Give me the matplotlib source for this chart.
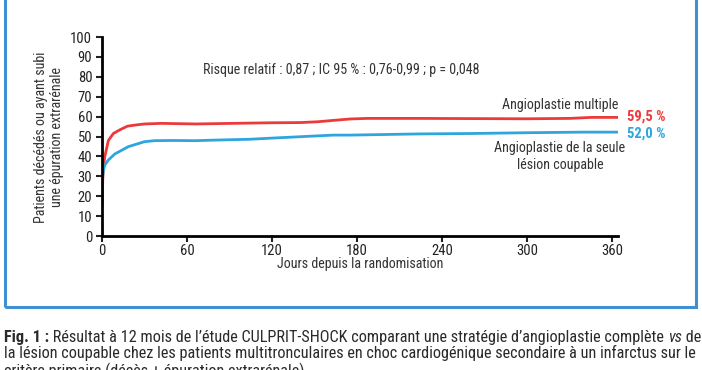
import matplotlib
matplotlib.use("Agg")
import matplotlib.pyplot as plt
from matplotlib.patches import Rectangle

plt.rcParams['font.family'] = ['Roboto Condensed', 'DejaVu Sans']
plt.rcParams['font.stretch'] = 'condensed'

# données
jours_multiple = [0, 0.5, 1, 2, 4.5, 8, 13, 18, 24, 30, 42, 66, 92, 120, 140,
                  152, 165, 175, 187, 224, 260, 300, 330, 345, 364]
angio_multiple = [14.5, 28, 35, 40, 48, 51.5, 53.5, 55.2, 55.8, 56.3, 56.6, 56.3,
                  56.6, 56.9, 57.0, 57.4, 58.2, 58.8, 59.1, 59.1, 59.0, 58.9,
                  59.1, 59.6, 59.6]
jours_seule = [0, 0.5, 1, 2, 4.5, 9, 18.6, 30, 37, 50, 66, 80, 104, 120, 140,
               163, 175, 224, 260, 300, 340, 364]
angio_seule = [15.5, 30, 33, 35.7, 38.2, 41.2, 44.9, 47.4, 47.9, 48.0, 47.9, 48.2,
               48.6, 49.2, 49.9, 50.7, 50.7, 51.3, 51.5, 51.9, 52.2, 52.2]
x_ticks = [0, 60, 120, 180, 240, 300, 360]
y_ticks = list(range(0, 101, 10))

rouge = '#ec3a3a'
bleu = '#2fa5de'
cadre = '#3f8fd2'

W, H = 702, 370
fig = plt.figure(figsize=(W / 100, H / 100), dpi=100)
ax = fig.add_axes([102 / W, 1 - 236 / H, 516 / W, 199 / H])

ax.plot(jours_multiple, angio_multiple, color=rouge, lw=2, solid_capstyle='butt')
ax.plot(jours_seule, angio_seule, color=bleu, lw=2, solid_capstyle='butt')

ax.set_xlim(0, 364)
ax.set_ylim(0, 100)
ax.set_xticks(x_ticks)
ax.set_yticks(y_ticks)
for s in ['top', 'right']:
    ax.spines[s].set_visible(False)
for s in ['left', 'bottom']:
    ax.spines[s].set_linewidth(2)
ax.tick_params(direction='out', length=4, width=1.5, labelsize=10.5,
               colors='#222222')
ax.tick_params(axis='y', pad=3)
ax.tick_params(axis='x', pad=1.5)

txt = '#333333'
fs_txt = 10.1
ax.text(71, 83.5, 'Risque relatif : 0,87 ; IC 95 % : 0,76-0,99 ; p = 0,048',
        fontsize=fs_txt, color=txt, va='center', ha='left')
ax.text(364, 65.8, 'Angioplastie multiple', fontsize=fs_txt, color=txt,
        ha='right', va='center')
ax.text(323, 40, 'Angioplastie de la seule\nlésion coupable', fontsize=fs_txt,
        color=txt, ha='center', va='center', linespacing=1.2, clip_on=False)
ax.text(370, 60.0, '59,5 %', fontsize=10.5, color=rouge, fontweight='bold',
        ha='left', va='center', clip_on=False)
ax.text(370, 51.3, '52,0 %', fontsize=10.5, color=bleu, fontweight='bold',
        ha='left', va='center', clip_on=False)

fig.text(49 / W, 1 - 137 / H, 'Patients décédés ou ayant subi\nune épuration extrarénale',
         rotation=90, ha='center', va='center', fontsize=fs_txt, color=txt,
         linespacing=1.15)
fig.text(360 / W, 1 - 264 / H, 'Jours depuis la randomisation', ha='center',
         va='center', fontsize=fs_txt, color=txt)

# cadre bleu
fig.patches.append(Rectangle((4.5 / W, 1 - 306.5 / H), 691 / W, 306.5 / H + 0.1,
                             transform=fig.transFigure, fill=False,
                             edgecolor=cadre, lw=2.2, clip_on=False))

# légende de la figure
fs = 11.7
lignes = [
    [('Fig. 1 :', 'bold', 'normal'),
     (' Résultat à 12 mois de l’étude CULPRIT-SHOCK comparant une stratégie d’angioplastie complète ', 'normal', 'normal'),
     ('vs', 'normal', 'italic'), (' de', 'normal', 'normal')],
    [('la lésion coupable chez les patients multitronculaires en choc cardiogénique secondaire à un infarctus sur le', 'normal', 'normal')],
    [('critère primaire (décès + épuration extrarénale)', 'normal', 'normal')],
]
bases = [342, 358, 376]
for morceaux, yb in zip(lignes, bases):
    prec = None
    for chaine, poids, style in morceaux:
        if prec is None:
            prec = fig.text(4 / W, 1 - yb / H, chaine, fontsize=fs, fontweight=poids,
                            fontstyle=style, color='#2a2a2a', va='baseline')
        else:
            prec = ax.annotate(chaine, xy=(1, 0), xycoords=prec, fontsize=fs,
                               fontweight=poids, fontstyle=style, color='#2a2a2a',
                               va='bottom', ha='left', annotation_clip=False)

fig.savefig('out.png', dpi=100)
